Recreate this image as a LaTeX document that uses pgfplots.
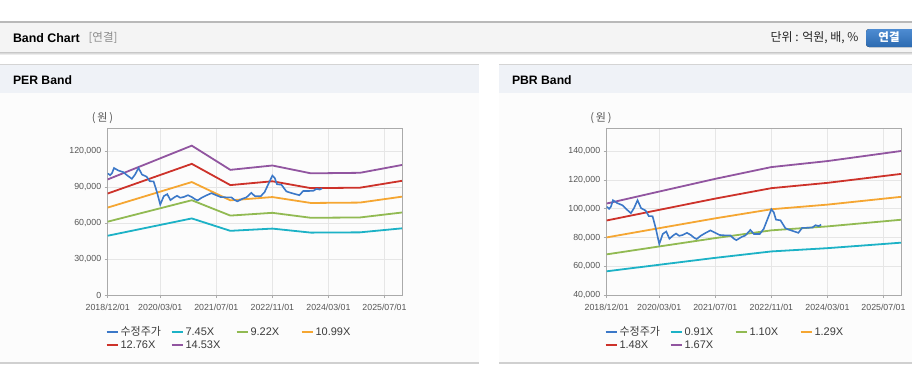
\documentclass[border=0pt]{standalone}
\usepackage{fontspec}
\setmainfont{Liberation Sans}
\newfontfamily\kr{Noto Sans CJK KR}
\usepackage{pgfplots}
\usepackage{pgfplotstable}
\pgfplotsset{compat=1.18}

\definecolor{cPrice}{RGB}{59,120,200}
\definecolor{cTeal}{RGB}{28,178,198}
\definecolor{cGreen}{RGB}{145,186,82}
\definecolor{cOrange}{RGB}{245,166,50}
\definecolor{cRed}{RGB}{205,50,42}
\definecolor{cPurple}{RGB}{145,85,160}
\definecolor{framec}{RGB}{170,170,170}
\definecolor{gridc}{RGB}{230,230,230}
\definecolor{tickc}{RGB}{85,85,85}
\definecolor{legc}{RGB}{60,60,60}
\definecolor{hdr}{RGB}{244,244,244}
\definecolor{hdrline}{RGB}{185,185,185}
\definecolor{panelhdr}{RGB}{239,242,247}
\definecolor{panelline}{RGB}{212,212,212}
\definecolor{bottomline}{RGB}{208,208,208}
\definecolor{btntop}{RGB}{78,140,210}
\definecolor{btnbot}{RGB}{44,106,176}

% month index: 0 = 2018/12
\pgfplotstableread{
m p
0 101500
0.7 100000
1.2 101500
1.8 106000
3 104000
4.5 102500
5.5 100000
6.9 97000
7.8 100500
8.8 106000
9.8 100500
11.1 98800
12 95000
13.1 94800
14 86500
15 75500
16 82500
17 84200
17.9 79200
19 81500
19.8 82800
20.7 81200
21.7 81800
22.9 83300
24 81800
25 79800
25.7 79000
26.8 81200
28.2 83200
29.6 85000
30.8 83500
32.2 81800
34 81500
35.3 81500
36.3 79200
37 78200
38.5 80400
39.6 81500
41 85300
42 82500
43.7 82500
44.8 86000
46 93500
47 99700
47.7 97500
48.3 92500
49.6 92000
51 86500
52 85500
53.2 84500
54.7 83300
55.8 86800
57.2 86800
58.7 87000
59.6 88600
60.5 88000
61.2 89000
}\price

\pgfplotstableread{
m a b c d e
0 49468 61221 72974 84726 96479
24 63921 79108 94294 109481 124667
35 53566 66292 79018 91744 104471
47 55428 68597 81766 94934 108103
58 52076 64448 76820 89192 101565
72 52299 64724 77150 89575 102001
84 55652 68873 82095 95317 108539
}\perband

\pgfplotstableread{
m a b c d e
0 56511 68310 80109 91908 103707
15 61061 73810 86559 99308 112057
31 65884 79640 93396 107152 120908
47 70343 85030 99717 114404 129091
63 72618 87780 102942 118104 133266
84 76440 92400 108360 124320 140280
}\pbrband

\pgfplotsset{bandaxis/.style={
  scale only axis, width=294.3pt, height=167pt, anchor=south west,
  xmin=0, xmax=84, xtick={0,15,31,47,63,79},
  xticklabels={2018/12/01,2020/03/01,2021/07/01,2022/11/01,2024/03/01,2025/07/01},
  grid=major, major grid style={draw=gridc, line width=0.7pt},
  axis line style={draw=framec, line width=0.8pt},
  tick pos=left, tick align=outside, major tick length=3pt,
  every tick/.style={draw=framec, line width=0.8pt},
  tick label style={font=\fontsize{8.8}{10}\selectfont, text=tickc},
  /pgf/number format/assume math mode=true,
  scaled y ticks=false,
  yticklabel style={/pgf/number format/fixed, /pgf/number format/1000 sep={,}},
  xticklabel style={yshift=-2.5pt},
  legend columns=4, legend cell align=left,
  legend style={draw=none, fill=none, at={(-0.008,-0.185)}, anchor=north west,
    inner sep=0pt, font=\fontsize{11}{12}\selectfont, text=legc,
    nodes={inner sep=1pt, text height=8pt, text depth=2pt}, row sep=1pt,
    /tikz/every odd column/.append style={column sep=1pt}},
  legend image code/.code={\draw[##1, line width=2pt] (0pt,0pt) -- (11pt,0pt);},
  every axis plot/.append style={line width=1.8pt, mark=none},
}}

\begin{document}
\begin{tikzpicture}[x=1pt,y=1pt]
\path[use as bounding box, clip] (0,0) rectangle (912,-364);
\fill[white] (0,0) rectangle (912,-364);
% header bar
\fill[hdr] (0,-22.5) rectangle (912,-52);
\draw[hdrline, line width=1.2pt] (0,-22) -- (912,-22);
\fill[top color=black!22, bottom color=white] (0,-52) rectangle (912,-55);
\node[anchor=west, font=\bfseries\fontsize{12.4}{14}\selectfont] at (9.5,-38) {Band Chart};
\node[anchor=west, font=\kr\fontsize{11.5}{13}\selectfont, text=black!45] at (85,-38) {[연결]};
\node[anchor=east, font=\kr\fontsize{12}{13}\selectfont, text=black!85] at (862,-38) {단위 : 억원, 배, \%};
\fill[rounded corners=3pt, top color=btntop, bottom color=btnbot] (866,-29) rectangle (920,-47);
\node[font=\kr\bfseries\fontsize{11.5}{13}\selectfont, text=white] at (889,-37.5) {연결};
% panels
\foreach \xa/\xb in {0/479, 499/912}{
  \fill[panelhdr] (\xa,-64.5) rectangle (\xb,-92.5);
  \draw[panelline, line width=1pt] (\xa,-64) -- (\xb,-64);
  \fill[black!1] (\xa,-92.5) rectangle (\xb,-361.5);
  \draw[bottomline, line width=2pt] (\xa,-362.8) -- (\xb,-362.8);
}
\node[anchor=west, font=\bfseries\fontsize{12.2}{14}\selectfont] at (9.5,-80) {PER Band};
\node[anchor=west, font=\bfseries\fontsize{12.2}{14}\selectfont] at (508.5,-80) {PBR Band};
\node[font=\kr\fontsize{11}{12}\selectfont, text=tickc] at (102.5,-118) {(\,원\,)};
\node[font=\kr\fontsize{11}{12}\selectfont, text=tickc] at (601,-118) {(\,원\,)};

% PER axis
\begin{axis}[bandaxis, at={(107.7pt,-295pt)}, ymin=0, ymax=139400,
  ytick={0,30000,60000,90000,120000}]
\addlegendimage{cPrice}
\addlegendentry{\makebox[49pt][l]{\kr 수정주가}}
\addplot[cTeal] table[x=m,y=a] \perband; \addlegendentry{\makebox[49pt][l]{7.45X}}
\addplot[cGreen] table[x=m,y=b] \perband; \addlegendentry{\makebox[49pt][l]{9.22X}}
\addplot[cOrange] table[x=m,y=c] \perband; \addlegendentry{\makebox[49pt][l]{10.99X}}
\addplot[cRed] table[x=m,y=d] \perband; \addlegendentry{\makebox[49pt][l]{12.76X}}
\addplot[cPurple] table[x=m,y=e] \perband; \addlegendentry{\makebox[49pt][l]{14.53X}}
\addplot[cPrice, line width=1.6pt, forget plot] table[x=m,y=p] \price;
\end{axis}

% PBR axis
\begin{axis}[bandaxis, at={(606.7pt,-295pt)}, ymin=40000, ymax=156300,
  ytick={40000,60000,80000,100000,120000,140000}]
\addlegendimage{cPrice}
\addlegendentry{\makebox[49pt][l]{\kr 수정주가}}
\addplot[cTeal] table[x=m,y=a] \pbrband; \addlegendentry{\makebox[49pt][l]{0.91X}}
\addplot[cGreen] table[x=m,y=b] \pbrband; \addlegendentry{\makebox[49pt][l]{1.10X}}
\addplot[cOrange] table[x=m,y=c] \pbrband; \addlegendentry{\makebox[49pt][l]{1.29X}}
\addplot[cRed] table[x=m,y=d] \pbrband; \addlegendentry{\makebox[49pt][l]{1.48X}}
\addplot[cPurple] table[x=m,y=e] \pbrband; \addlegendentry{\makebox[49pt][l]{1.67X}}
\addplot[cPrice, line width=1.6pt, forget plot] table[x=m,y=p] \price;
\end{axis}
\end{tikzpicture}
\end{document}
